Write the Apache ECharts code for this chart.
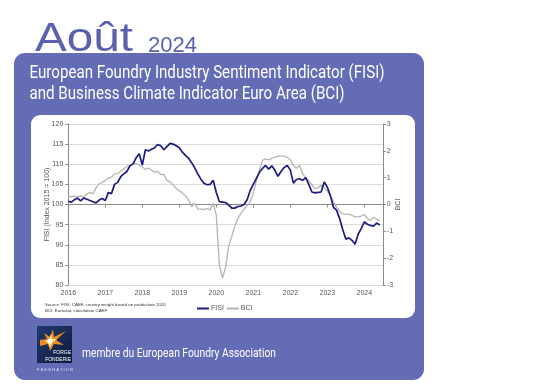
<!DOCTYPE html>
<html><head><meta charset="utf-8">
<script src="https://cdn.jsdelivr.net/npm/echarts@6/dist/echarts.min.js"></script>
<style>html,body{margin:0;padding:0;background:#fff}#c{width:554px;height:391px}</style>
</head><body><div id="c"></div>
<script>
// Monthly values, Jan 2016 .. Jun 2024
const startYear = 2016;
const fisi = [
 100.8,100.6,101.2,101.6,100.9,101.6,101.3,101.0,100.7,100.4,101.1,101.5,
 101.0,103.0,102.7,105.0,105.5,106.9,107.6,108.2,109.6,110.1,111.6,112.6,
 109.8,113.6,113.3,113.7,114.1,114.9,114.6,113.6,114.4,115.2,115.0,114.6,
 114.1,113.0,112.2,111.5,110.4,109.1,107.6,106.3,105.3,104.9,105.0,106.0,
 103.0,100.7,100.6,100.5,99.9,99.1,99.1,99.5,99.6,100.0,101.2,103.5,
 105.0,106.5,108.0,109.0,109.7,108.8,109.6,108.5,107.0,108.2,109.2,109.7,
 108.6,105.3,106.2,106.4,106.0,106.7,105.0,103.1,102.9,103.0,103.1,105.6,
 104.3,102.2,99.3,98.6,96.5,93.8,91.4,91.7,91.1,90.1,92.6,94.0,
 95.7,95.1,94.8,94.6,95.4,94.9
];
const bci = [
 0.32,0.28,0.32,0.28,0.33,0.26,0.40,0.44,0.41,0.62,0.77,0.83,
 0.90,0.99,1.02,1.14,1.15,1.24,1.33,1.41,1.46,1.50,1.52,1.47,
 1.40,1.31,1.36,1.28,1.20,1.23,1.11,1.12,0.90,0.85,0.73,0.60,
 0.51,0.43,0.32,0.18,-0.09,0.05,-0.17,-0.17,-0.18,-0.15,-0.20,0.04,
 -0.40,-2.25,-2.74,-2.35,-1.55,-1.20,-0.80,-0.52,-0.33,-0.17,-0.05,0.10,
 0.42,0.90,1.30,1.65,1.70,1.66,1.72,1.77,1.80,1.80,1.80,1.76,
 1.67,1.45,1.35,1.45,1.14,0.99,0.88,0.74,0.59,0.62,0.72,0.63,
 0.50,0.32,0.10,-0.10,-0.25,-0.35,-0.37,-0.37,-0.40,-0.46,-0.46,-0.43,
 -0.37,-0.52,-0.60,-0.48,-0.54,-0.62
];
const yearLabels = ['2016','2017','2018','2019','2020','2021','2022','2023','2024'];
const seriesNames = ['FISI','BCI'];
const titleMonth = 'Août';
const titleYear = '2024';
const subtitle1 = 'European Foundry Industry Sentiment Indicator (FISI)';
const subtitle2 = 'and Business Climate Indicator Euro Area (BCI)';
const sourceText1 = 'Source: FISI: CAEF, country weight based on production 2020';
const sourceText2 = 'BCI: Eurostat, calculation CAEF';
const footerText = 'membre du European Foundry Association';

const toPairs = arr => arr.map((v, i) => [i, v]);

function measure(text, font) {
  const c = document.createElement('canvas').getContext('2d');
  c.font = font; return c.measureText(text).width;
}
const subFont = '19px Roboto';
const subScale = 355 / measure(subtitle1, subFont);
const footFont = '13px Roboto';
const footScale = 194 / measure(footerText, footFont);
const titleFont = '40px "Liberation Sans"';
const titleScale = 98 / measure(titleMonth, titleFont);

const purple = '#636cb5';
const chart = echarts.init(document.getElementById('c'), null, {renderer: 'canvas'});
chart.setOption({
  animation: false,
  backgroundColor: '#ffffff',
  graphic: [
    {type: 'rect', z: -10, shape: {x: 14, y: 53, width: 410, height: 327, r: 11}, style: {fill: purple}},
    {type: 'rect', z: -9, shape: {x: 31, y: 115, width: 384, height: 203, r: 9}, style: {fill: '#ffffff'}},
    {type: 'text', z: 5, x: 35, y: 60, scaleX: titleScale, originX: 0, originY: 0,
      style: {text: titleMonth, font: titleFont, fill: '#5a62ae', verticalAlign: 'bottom', align: 'left'}},
    {type: 'text', z: 5, x: 148, y: 57, style: {text: titleYear, font: '22px "Liberation Sans"', fill: '#5a62ae', verticalAlign: 'bottom'}},
    {type: 'text', z: 5, x: 29.5, y: 73, scaleX: subScale, originX: 0, originY: 0,
      style: {text: subtitle1, font: subFont, fill: '#ffffff', verticalAlign: 'middle'}},
    {type: 'text', z: 5, x: 29.5, y: 94, scaleX: subScale, originX: 0, originY: 0,
      style: {text: subtitle2, font: subFont, fill: '#ffffff', verticalAlign: 'middle'}},
    {type: 'text', z: 5, x: 45, y: 305, style: {text: sourceText1, font: '4.4px "Liberation Sans"', fill: '#333', verticalAlign: 'middle'}},
    {type: 'text', z: 5, x: 45, y: 310.5, style: {text: sourceText2, font: '4.4px "Liberation Sans"', fill: '#333', verticalAlign: 'middle'}},
    {type: 'text', z: 5, x: 82, y: 354, scaleX: footScale, originX: 0, originY: 0,
      style: {text: footerText, font: footFont, fill: '#ffffff', verticalAlign: 'middle'}},
    // logo
    {type: 'rect', z: 5, shape: {x: 37, y: 326, width: 35, height: 37},
      style: {fill: new echarts.graphic.LinearGradient(0, 0, 1, 1, [{offset: 0, color: '#1f3a6e'}, {offset: 1, color: '#0e1a3c'}])}},
    {type: 'polygon', z: 6, shape: {points: [[40,340],[47,339],[44,333],[50,337],[53,329],[54,337],[66,331],[56,340],[64,345],[54,344],[50,351],[48,344],[40,346]]},
      style: {fill: '#f08a24'}},
    {type: 'polygon', z: 7, shape: {points: [[45,341],[49,339],[51,334],[52,339],[57,339],[53,342],[50,347],[48,343]]},
      style: {fill: '#fde7a0'}},
    {type: 'circle', z: 8, shape: {cx: 50, cy: 341, r: 2.2}, style: {fill: '#ffffff'}},
    {type: 'text', z: 6, x: 71, y: 353, style: {text: 'FORGE', font: '5px "Liberation Sans"', fill: '#ffffff', align: 'right', verticalAlign: 'middle'}},
    {type: 'text', z: 6, x: 71, y: 359.3, style: {text: 'FONDERIE', font: '5px "Liberation Sans"', fill: '#ffffff', align: 'right', verticalAlign: 'middle'}},
    {type: 'text', z: 6, x: 55, y: 369.5, style: {text: 'F E D E R A T I O N', font: '4px "Liberation Sans"', fill: '#dfe3f5', align: 'center', verticalAlign: 'middle'}}
  ],
  grid: {left: 68.3, top: 124, width: 314.5, height: 161},
  legend: {
    left: 192, top: 300, itemWidth: 12, itemHeight: 2, itemGap: 3, icon: 'rect',
    textStyle: {fontSize: 7, color: '#555', fontFamily: 'Liberation Sans', padding: [0, 0, 0, -3]},
    data: seriesNames
  },
  xAxis: {
    type: 'value', min: 0, max: 102, interval: 12,
    axisLine: {lineStyle: {color: '#8a8a8a', width: 1}},
    axisTick: {length: 3, lineStyle: {color: '#8a8a8a'}},
    axisLabel: {fontSize: 7, color: '#555', fontFamily: 'Liberation Sans', margin: 5, showMaxLabel: false,
      formatter: v => (v % 12 === 0 ? yearLabels[v / 12] : '')},
    splitLine: {show: false}
  },
  yAxis: [
    {
      type: 'value', min: 80, max: 120, interval: 5,
      name: 'FISI (Index 2015 = 100)', nameLocation: 'middle', nameGap: 18, nameRotate: 90, nameMoveOverlap: false,
      nameTextStyle: {fontSize: 7, color: '#555', fontFamily: 'Liberation Sans'},
      axisLine: {show: true, lineStyle: {color: '#8a8a8a'}},
      axisTick: {show: true, length: 3, lineStyle: {color: '#8a8a8a'}},
      axisLabel: {fontSize: 7, color: '#555', fontFamily: 'Liberation Sans', margin: 5},
      splitLine: {show: true, lineStyle: {color: '#dcdcdc', width: 1}}
    },
    {
      type: 'value', min: -3, max: 3, interval: 1, position: 'right',
      name: 'BCI', nameLocation: 'middle', nameGap: 12, nameRotate: 90, nameMoveOverlap: false,
      nameTextStyle: {fontSize: 7, color: '#555', fontFamily: 'Liberation Sans'},
      axisLine: {show: true, lineStyle: {color: '#8a8a8a'}},
      axisTick: {show: true, length: 3, lineStyle: {color: '#8a8a8a'}},
      axisLabel: {fontSize: 7, color: '#555', fontFamily: 'Liberation Sans', margin: 4},
      splitLine: {show: false}
    }
  ],
  series: [
    {name: seriesNames[1], type: 'line', yAxisIndex: 1, data: toPairs(bci), showSymbol: false, symbol: 'none',
      lineStyle: {color: '#b5b5b5', width: 1.3}, itemStyle: {color: '#b5b5b5'}, z: 2},
    {name: seriesNames[0], type: 'line', yAxisIndex: 0, data: toPairs(fisi), showSymbol: false, symbol: 'none',
      lineStyle: {color: '#1b1b80', width: 1.7}, itemStyle: {color: '#1b1b80'}, z: 3}
  ]
});
</script>
</body></html>
